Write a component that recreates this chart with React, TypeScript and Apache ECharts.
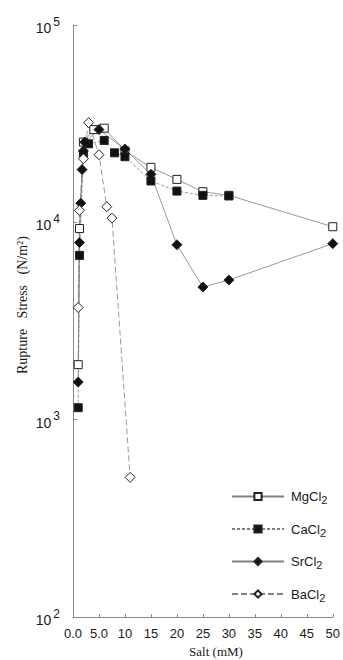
import React, { useEffect, useRef } from "react";
import * as echarts from "echarts";

// Salt concentration (mM) and rupture stress (N/m²) for each salt
const saltMg = [1, 1.25, 2, 4, 6, 10, 15, 20, 25, 30, 50];
const stressMg = [1900, 9300, 25500, 29500, 30000, 23000, 19000, 16500, 14300, 13700, 9500];

const saltCa = [1, 1.25, 2, 3, 6, 8, 10, 15, 20, 25, 30];
const stressCa = [1150, 6800, 22000, 25000, 26000, 22500, 21500, 16200, 14400, 13700, 13600];

const saltSr = [1, 1.25, 1.5, 1.75, 2, 2.25, 5, 10, 15, 20, 25, 30, 50];
const stressSr = [1550, 7900, 12500, 18500, 23000, 25500, 29500, 23500, 17500, 7700, 4700, 5100, 7800];

const saltBa = [1, 1.25, 2, 3, 5, 6.5, 7.5, 11];
const stressBa = [3700, 11500, 21000, 32000, 22000, 12000, 10500, 510];

const xTickLabels: Record<number, string> = { 0: "0.0", 5: "5.0" };
const seriesNames = ["MgCl2", "CaCl2", "SrCl2", "BaCl2"];

const pairs = (xs: number[], ys: number[]) => xs.map((x, i) => [x, ys[i]]);

export default function App() {
  const ref = useRef<HTMLDivElement>(null);

  useEffect(() => {
    if (!ref.current) return;
    const chart = echarts.init(ref.current, undefined, { renderer: "svg" });
    const ink = "#1a1a1a";
    const lineGray = "#808080";
    const sans = "'Liberation Sans', Arial, sans-serif";
    const serif = "'Liberation Serif', 'Times New Roman', serif";

    const mk = (
      name: string,
      data: number[][],
      symbol: string,
      size: number,
      filled: boolean,
      lineType: any
    ) => ({
      name,
      type: "line",
      data,
      symbol,
      symbolSize: size,
      showSymbol: true,
      lineStyle: { color: lineGray, width: 0.8, type: lineType },
      itemStyle: {
        color: filled ? "#111" : "#fff",
        borderColor: "#222",
        borderWidth: 1,
      },
      emphasis: { disabled: true },
      z: 3,
    });

    chart.setOption({
      animation: false,
      backgroundColor: "#fff",
      grid: { left: 73, right: 6.5, top: 25, bottom: 43, containLabel: false },
      xAxis: {
        type: "value",
        min: 0,
        max: 50,
        interval: 5,
        axisLine: { show: true, lineStyle: { color: "#888", width: 1 } },
        axisTick: { show: true, inside: true, length: 3, lineStyle: { color: "#888" } },
        splitLine: { show: false },
        axisLabel: {
          margin: 10,
          color: ink,
          fontFamily: sans,
          fontSize: 13,
          formatter: (v: number) => xTickLabels[v] ?? String(v),
        },
      },
      yAxis: {
        type: "log",
        logBase: 10,
        min: 100,
        max: 100000,
        axisLine: { show: true, lineStyle: { color: "#888", width: 1 } },
        axisTick: { show: true, inside: true, length: 4, lineStyle: { color: "#888" } },
        minorTick: { show: false },
        splitLine: { show: false },
        axisLabel: {
          margin: 13,
          color: ink,
          formatter: (v: number) => `{b|10}{s|${Math.round(Math.log10(v))}}`,
          rich: {
            b: { fontFamily: sans, fontSize: 14, color: ink, padding: [6, 0, 0, 0] },
            s: { fontFamily: sans, fontSize: 12, color: ink, padding: [0, 0, 7, 2] },
          },
        },
      },
      legend: {
        orient: "vertical",
        left: 226,
        top: 485,
        itemWidth: 52,
        itemHeight: 9,
        itemGap: 17,
        data: seriesNames,
        selectedMode: false,
        formatter: (n: string) => `{n|${n.slice(0, -1)}}{s|2}`,
        textStyle: {
          rich: {
            n: { fontFamily: sans, fontSize: 13, color: ink, padding: [0, 0, 0, 2] },
            s: { fontFamily: sans, fontSize: 11, color: ink, padding: [7, 0, 0, 0] },
          },
        },
      },
      graphic: [
        {
          type: "text",
          x: 22,
          y: 305,
          rotation: Math.PI / 2,
          style: {
            text: "Rupture   Stress   (N/m²)",
            font: `14px ${serif}`,
            fill: ink,
            textAlign: "center",
            textVerticalAlign: "middle",
          },
        },
        {
          type: "text",
          x: 216,
          y: 651,
          style: {
            text: "Salt (mM)",
            font: `13px ${serif}`,
            fill: ink,
            textAlign: "center",
            textVerticalAlign: "middle",
          },
        },
      ],
      series: [
        mk("MgCl2", pairs(saltMg, stressMg), "rect", 8, false, "solid"),
        mk("CaCl2", pairs(saltCa, stressCa), "rect", 8, true, [3, 2]),
        mk("SrCl2", pairs(saltSr, stressSr), "diamond", 10, true, "solid"),
        mk("BaCl2", pairs(saltBa, stressBa), "diamond", 10, false, [6, 3]),
      ],
    });

    return () => chart.dispose();
  }, []);

  return (
    <div
      ref={ref}
      style={{ position: "absolute", left: 0, top: 0, width: 343, height: 660 }}
    />
  );
}
